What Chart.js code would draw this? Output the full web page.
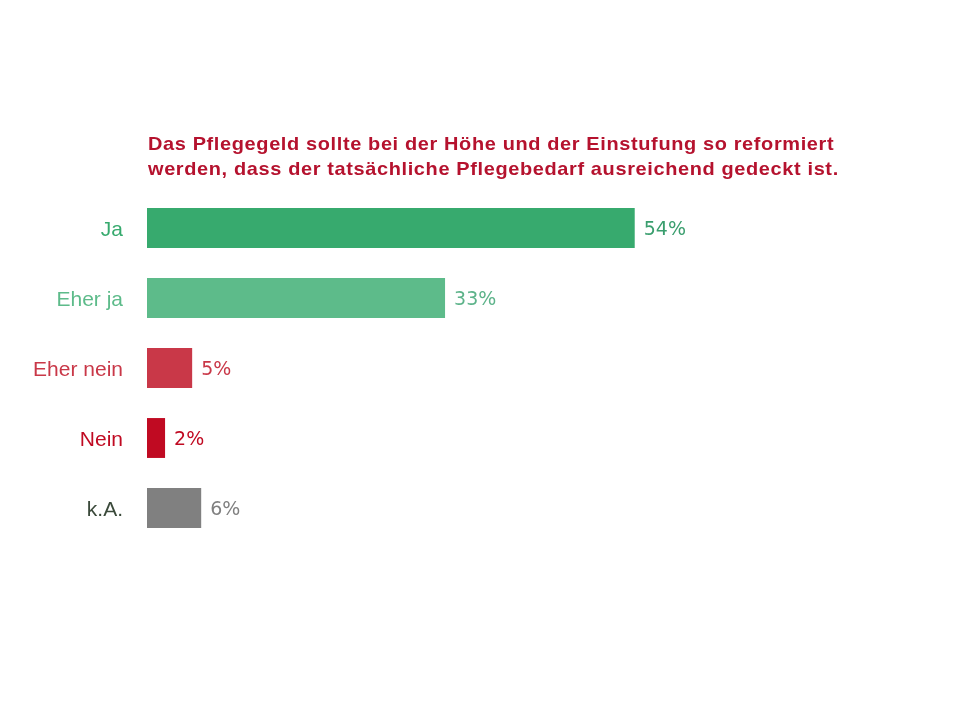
<!DOCTYPE html>
<html>
<head>
<meta charset="utf-8">
<script src="https://cdn.jsdelivr.net/npm/chart.js@4.4.1/dist/chart.umd.min.js"></script>
<style>
  html, body { margin: 0; padding: 0; background: #fff; }
  #wrap { width: 960px; height: 720px; position: relative; }
</style>
</head>
<body>
<div id="wrap"><canvas id="chart" width="960" height="720"></canvas></div>
<script>
// Daten
const kategorien = ['Ja', 'Eher ja', 'Eher nein', 'Nein', 'k.A.'];
const werte = [54, 33, 5, 2, 6];
const balkenFarben = ['#37AA6E', '#5DBB8A', '#C93848', '#C00A22', '#808080'];
const labelFarben = ['#37AA6E', '#5DBB8A', '#C93848', '#C00A22', '#3B4A3B'];
const wertFarben = ['#3A9E6E', '#5DB38A', '#C93848', '#C00A22', '#808080'];
const titelZeilen = [
  'Das Pflegegeld sollte bei der Höhe und der Einstufung so reformiert',
  'werden, dass der tatsächliche Pflegebedarf ausreichend gedeckt ist.'
];

// Titel oberhalb der Balken, linksbündig an der Chartfläche
const titelPlugin = {
  id: 'titelPlugin',
  afterDraw(chart) {
    const { ctx, chartArea } = chart;
    ctx.save();
    ctx.font = 'bold 19px "Liberation Sans", Arial, sans-serif';
    ctx.letterSpacing = '0.6px';
    ctx.fillStyle = '#B5122E';
    ctx.textAlign = 'left';
    ctx.textBaseline = 'alphabetic';
    ctx.translate(chartArea.left + 1, 0);
    ctx.scale(1.05, 1);
    titelZeilen.forEach((zeile, i) => {
      ctx.fillText(zeile, 0, chartArea.top - 43 + i * 25);
    });
    ctx.restore();
  }
};

// Prozentwerte rechts neben den Balken
const wertPlugin = {
  id: 'wertPlugin',
  afterDatasetsDraw(chart) {
    const { ctx } = chart;
    const meta = chart.getDatasetMeta(0);
    ctx.save();
    ctx.font = '19px Verdana, "DejaVu Sans", sans-serif';
    ctx.textAlign = 'left';
    ctx.textBaseline = 'middle';
    meta.data.forEach((bar, i) => {
      ctx.fillStyle = wertFarben[i];
      ctx.fillText(werte[i] + '%', bar.x + 9, bar.y + 2);
    });
    ctx.restore();
  }
};

new Chart(document.getElementById('chart'), {
  type: 'bar',
  data: {
    labels: kategorien,
    datasets: [{
      data: werte,
      backgroundColor: balkenFarben,
      borderWidth: 0,
      barPercentage: 0.57,
      categoryPercentage: 1
    }]
  },
  options: {
    indexAxis: 'y', // horizontale Balken
    responsive: false,
    animation: false,
    layout: {
      padding: { top: 193, bottom: 177, left: 0, right: 20 }
    },
    plugins: {
      legend: { display: false },
      tooltip: { enabled: false }
    },
    scales: {
      x: {
        display: false,
        min: 0,
        max: 87.8
      },
      y: {
        grid: { display: false },
        border: { display: false },
        afterFit(scale) { scale.width = 147; },
        ticks: {
          padding: 16,
          labelOffset: 2,
          font: { family: '"Liberation Sans", Arial, sans-serif', size: 21 },
          color: (c) => labelFarben[c.index]
        }
      }
    }
  },
  plugins: [titelPlugin, wertPlugin]
});
</script>
</body>
</html>
